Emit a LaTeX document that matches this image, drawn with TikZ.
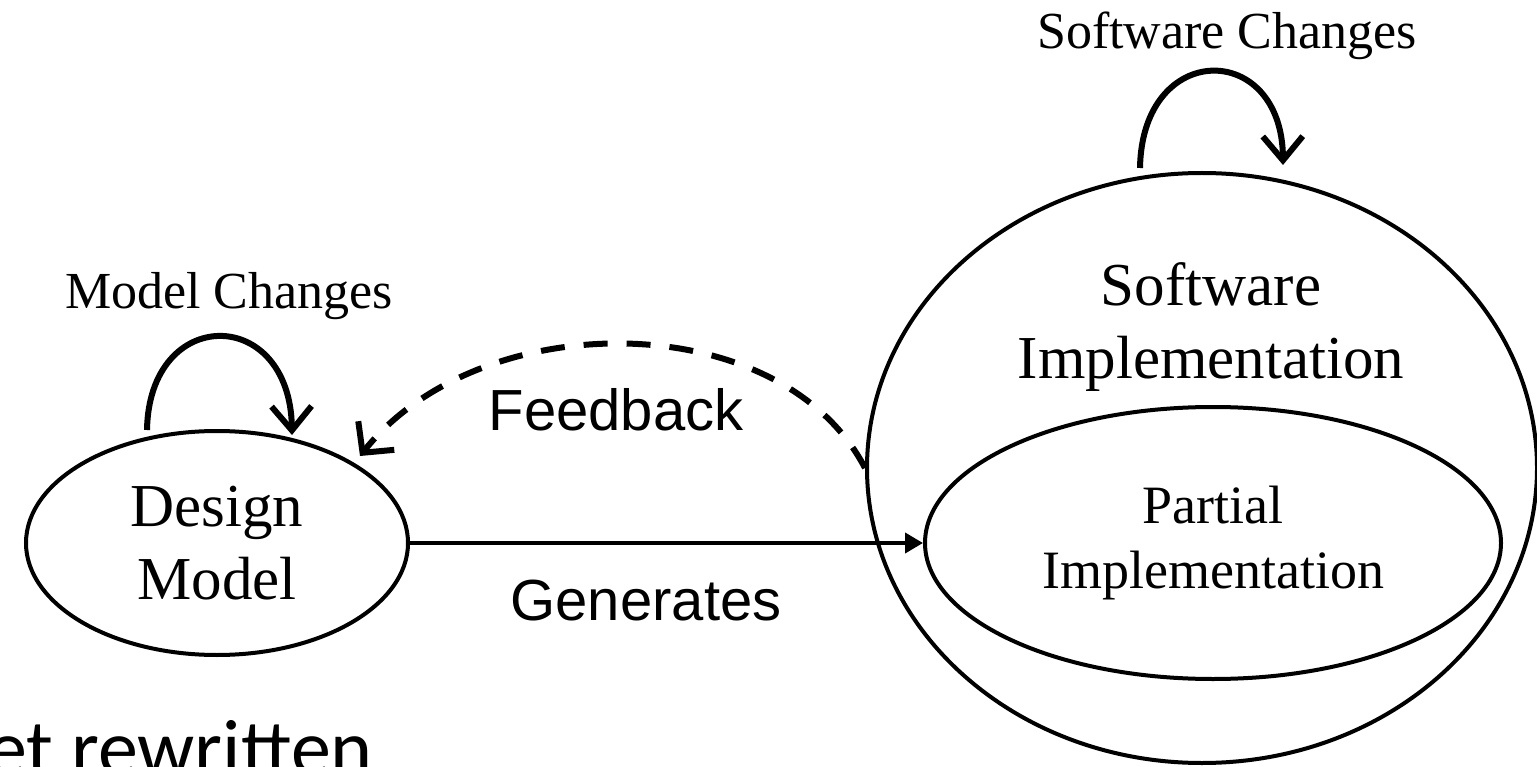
\documentclass[tikz,border=0pt]{standalone}
\usepackage{fontspec}
\setmainfont{Liberation Serif}
\newfontfamily\arialf{Liberation Sans}
\newfontfamily\calibf{Carlito}
\usetikzlibrary{shapes.geometric,arrows.meta}
\begin{document}
\begin{tikzpicture}[x=1pt,y=-1pt,
  oval/.style={draw, ellipse, line width=4pt, inner sep=0pt, align=center},
  loopline/.style={line width=6pt, -{Straight Barb[length=24pt,width=40pt]}},
  genline/.style={line width=4pt, -{Triangle[length=18pt,width=20pt]}},
  fbline/.style={line width=6pt, dash pattern=on 24pt off 19pt, -{Straight Barb[length=22pt,width=46pt]}},
  bigtxt/.style={font=\fontsize{61}{73}\selectfont, align=center, inner sep=0pt},
  midtxt/.style={font=\fontsize{54}{65}\selectfont, align=center},
  lbltxt/.style={font=\fontsize{52}{62}\selectfont, inner sep=0pt},
  sanstxt/.style={font=\arialf\fontsize{58}{70}\selectfont, inner sep=0pt},
  notetxt/.style={font=\calibf\fontsize{80}{96}\selectfont, inner sep=0pt}]
\useasboundingbox (0,0) rectangle (1537,767);
\clip (0,0) rectangle (1537,767);
\fill[white] (0,0) rectangle (1537,767);

% nodes
\node[oval, minimum width=382pt, minimum height=224pt, bigtxt] (dm) at (217,543) {Design\\Model};
\node[oval, minimum width=670pt, minimum height=590pt] (si) at (1202,468) {};
\node[oval, minimum width=576pt, minimum height=272pt, midtxt] (pi) at (1213,543) {Partial\\Implementation};
\node[bigtxt] (sitxt) at (1211,327) {Software\\Implementation};

% labels
\node[lbltxt, anchor=base] (mc) at (229,309) {Model Changes};
\node[lbltxt, anchor=base] (sc) at (1227,49) {Software Changes};
\node[sanstxt, anchor=base] (fb) at (616,430) {Feedback};
\node[sanstxt, anchor=base] (gen) at (646,620) {Generates};
\node[notetxt, anchor=base east] (note) at (373,775) {et rewritten};

% loop end points
\coordinate (mls) at (147,430);
\coordinate (mle) at (292,435);
\coordinate (sls) at (1140,168);
\coordinate (sle) at (1283,165);
\coordinate (fbe) at (360,456);

% connectors
\draw[loopline] (mls) .. controls (149,305) and (290,305) .. (mle);
\draw[loopline] (sls) .. controls (1142,40) and (1282,40) .. (sle);
\draw[genline] (dm.east) -- (pi.west);
\draw[fbline] (si.west) .. controls (780,305) and (480,305) .. (fbe);
\end{tikzpicture}
\end{document}
